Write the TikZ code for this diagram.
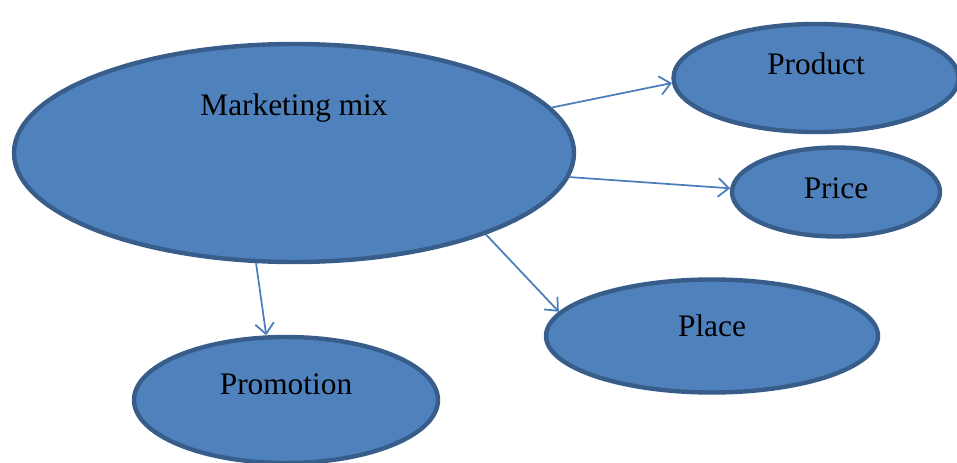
\documentclass[tikz,border=0pt]{standalone}
\usepackage{fontspec}
\setmainfont{Liberation Serif}
\usetikzlibrary{shapes.geometric, arrows.meta}
\definecolor{mixfill}{HTML}{4F81BD}
\definecolor{mixdraw}{HTML}{385D8A}
\definecolor{mixline}{HTML}{4A7EBB}

\begin{document}
\begin{tikzpicture}[x=0.75pt, y=-0.75pt,
	blob/.style={ellipse, draw=mixdraw, fill=mixfill, line width=3.3pt, inner sep=0pt},
	conn/.style={draw=mixline, line width=1.3pt, -{Straight Barb[length=8pt, width=14pt, line width=1.3pt]}},
	font=\fontsize{23.5}{28}\selectfont]
	\def\u{0.75pt}
	\useasboundingbox (0,0) rectangle (957,463);

	\node[blob, minimum width=560*\u, minimum height=218*\u, label={[yshift=34pt]center:Marketing mix}] (mix) at (294,153) {};
	\node[blob, minimum width=285*\u, minimum height=108*\u, label={[yshift=10.5pt]center:Product}] (product) at (816,78) {};
	\node[blob, minimum width=208*\u, minimum height=89*\u, label={[yshift=3pt]center:Price}] (price) at (836,192) {};
	\node[blob, minimum width=332*\u, minimum height=113*\u, label={[yshift=7.5pt]center:Place}] (place) at (712,336) {};
	\node[blob, minimum width=304*\u, minimum height=126*\u, label={[yshift=12pt]center:Promotion}] (promotion) at (286,400) {};

	\draw[conn] (mix.10.7) -- (product.182);
	\draw[conn] (mix.-5.6) -- (price.178);
	\draw[conn] (mix.-23.8) -- (place.171);
	\draw[conn] (mix.251) -- (promotion.107.6);
\end{tikzpicture}
\end{document}
